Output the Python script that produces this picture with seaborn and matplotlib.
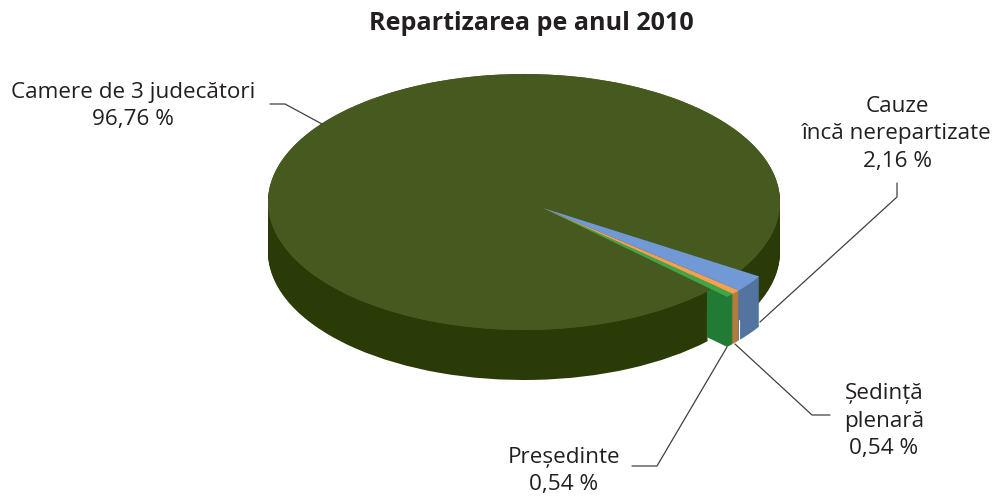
import matplotlib.pyplot as plt
import numpy as np
import seaborn as sns
from matplotlib.transforms import Bbox, TransformedBbox

title = 'Repartizarea pe anul 2010'
main_label = 'Camere de 3 judecători'
main_value = 96.76
# small slices in drawing order, counter-clockwise
small_labels = ['Președinte', 'Ședință\nplenară', 'Cauze\nîncă nerepartizate']
small_values = [0.54, 0.54, 2.16]

main_top = '#465A20'
main_side = '#2A3B08'
small_top = sns.color_palette(['#3FA648', '#F5A04E', '#7099D5'])
small_side = sns.color_palette(['#227B34', '#B57A3E', '#53749F'])
text_color = '#231F20'

W, H = 997, 500
CX, CY, RX, RY = 524, 202, 256, 128
DEPTH = 50
START = -44.0
OFFSET = (19 / RX, -6 / RY)


def pct(v):
    return f'{v:.2f}'.replace('.', ',') + ' %'


def px(x, y):
    return (x - CX) / RX, (CY - y) / RY


def draw_main(ax, dy, color):
    sweep = sum(small_values) * 3.6
    w, _ = ax.pie([main_value / 100], startangle=START + sweep, normalize=False,
                  colors=[color], center=(0, -dy / RY), wedgeprops={'linewidth': 0})
    return w


def draw_small(ax, dy, colors):
    w, _ = ax.pie([v / 100 for v in small_values], startangle=START, normalize=False,
                  colors=colors, center=(OFFSET[0], OFFSET[1] - dy / RY),
                  wedgeprops={'linewidth': 0})
    return w


sns.set_theme(style='white')
plt.rcParams['font.family'] = ['Open Sans', 'DejaVu Sans']

fig = plt.figure(figsize=(W / 100, H / 100), dpi=100)
ax = fig.add_axes([0, 0, 1, 1])

for d in range(DEPTH, 0, -1):
    draw_main(ax, d, main_side)

# the cut face of the small slices stays behind the big slice's rim
clip = TransformedBbox(Bbox([[np.cos(np.radians(START)) - 1 / RX, -3], [3, 3]]), ax.transData)
small_layers = []
for d in range(DEPTH, 0, -1):
    small_layers += draw_small(ax, d, small_side)

# full disc under the top so no dark gap shows along the moved slices
ax.pie([1], colors=[main_top], wedgeprops={'linewidth': 0})
draw_main(ax, 0, main_top)
draw_small(ax, 0, small_top)

ax.set_aspect('auto')
ax.set_xlim(px(0, 0)[0], px(W, 0)[0])
ax.set_ylim(px(0, H)[1], px(0, 0)[1])
ax.axis('off')

for wedge in small_layers:
    wedge.set_clip_path(None)
    wedge.set_clip_box(clip)
    wedge.set_clip_on(True)

leaders = [
    [(270, 104), (285, 104), (322, 124)],
    [(897, 183), (897, 197), (760, 322)],
    [(735, 344), (812, 415), (830, 415)],
    [(727, 347), (657, 466), (632, 466)],
]
for pts in leaders:
    xy = np.array([px(x, y) for x, y in pts])
    ax.plot(xy[:, 0], xy[:, 1], color='#404040', lw=0.9)

# thin light seam on the side between orange and blue
seam = np.array([px(738.5, 320), px(738.5, 342)])
ax.plot(seam[:, 0], seam[:, 1], color='white', lw=0.8)

FS = 16.2
LS = 1.38
ax.text(*px(531, 24), title, fontsize=18.1, fontweight='bold', color=text_color,
        ha='center', va='center')
ax.text(*px(133, 106), f'{main_label}\n{pct(main_value)}', fontsize=FS, color=text_color,
        ha='center', va='center', linespacing=LS)
ax.text(*px(897, 134), f'{small_labels[2]}\n{pct(small_values[2])}', fontsize=FS,
        color=text_color, ha='center', va='center', linespacing=LS)
ax.text(*px(884, 421), f'{small_labels[1]}\n{pct(small_values[1])}', fontsize=FS,
        color=text_color, ha='center', va='center', linespacing=LS)
ax.text(*px(564, 471), f'{small_labels[0]}\n{pct(small_values[0])}', fontsize=FS,
        color=text_color, ha='center', va='center', linespacing=LS)

fig.savefig('out.png', dpi=100)
